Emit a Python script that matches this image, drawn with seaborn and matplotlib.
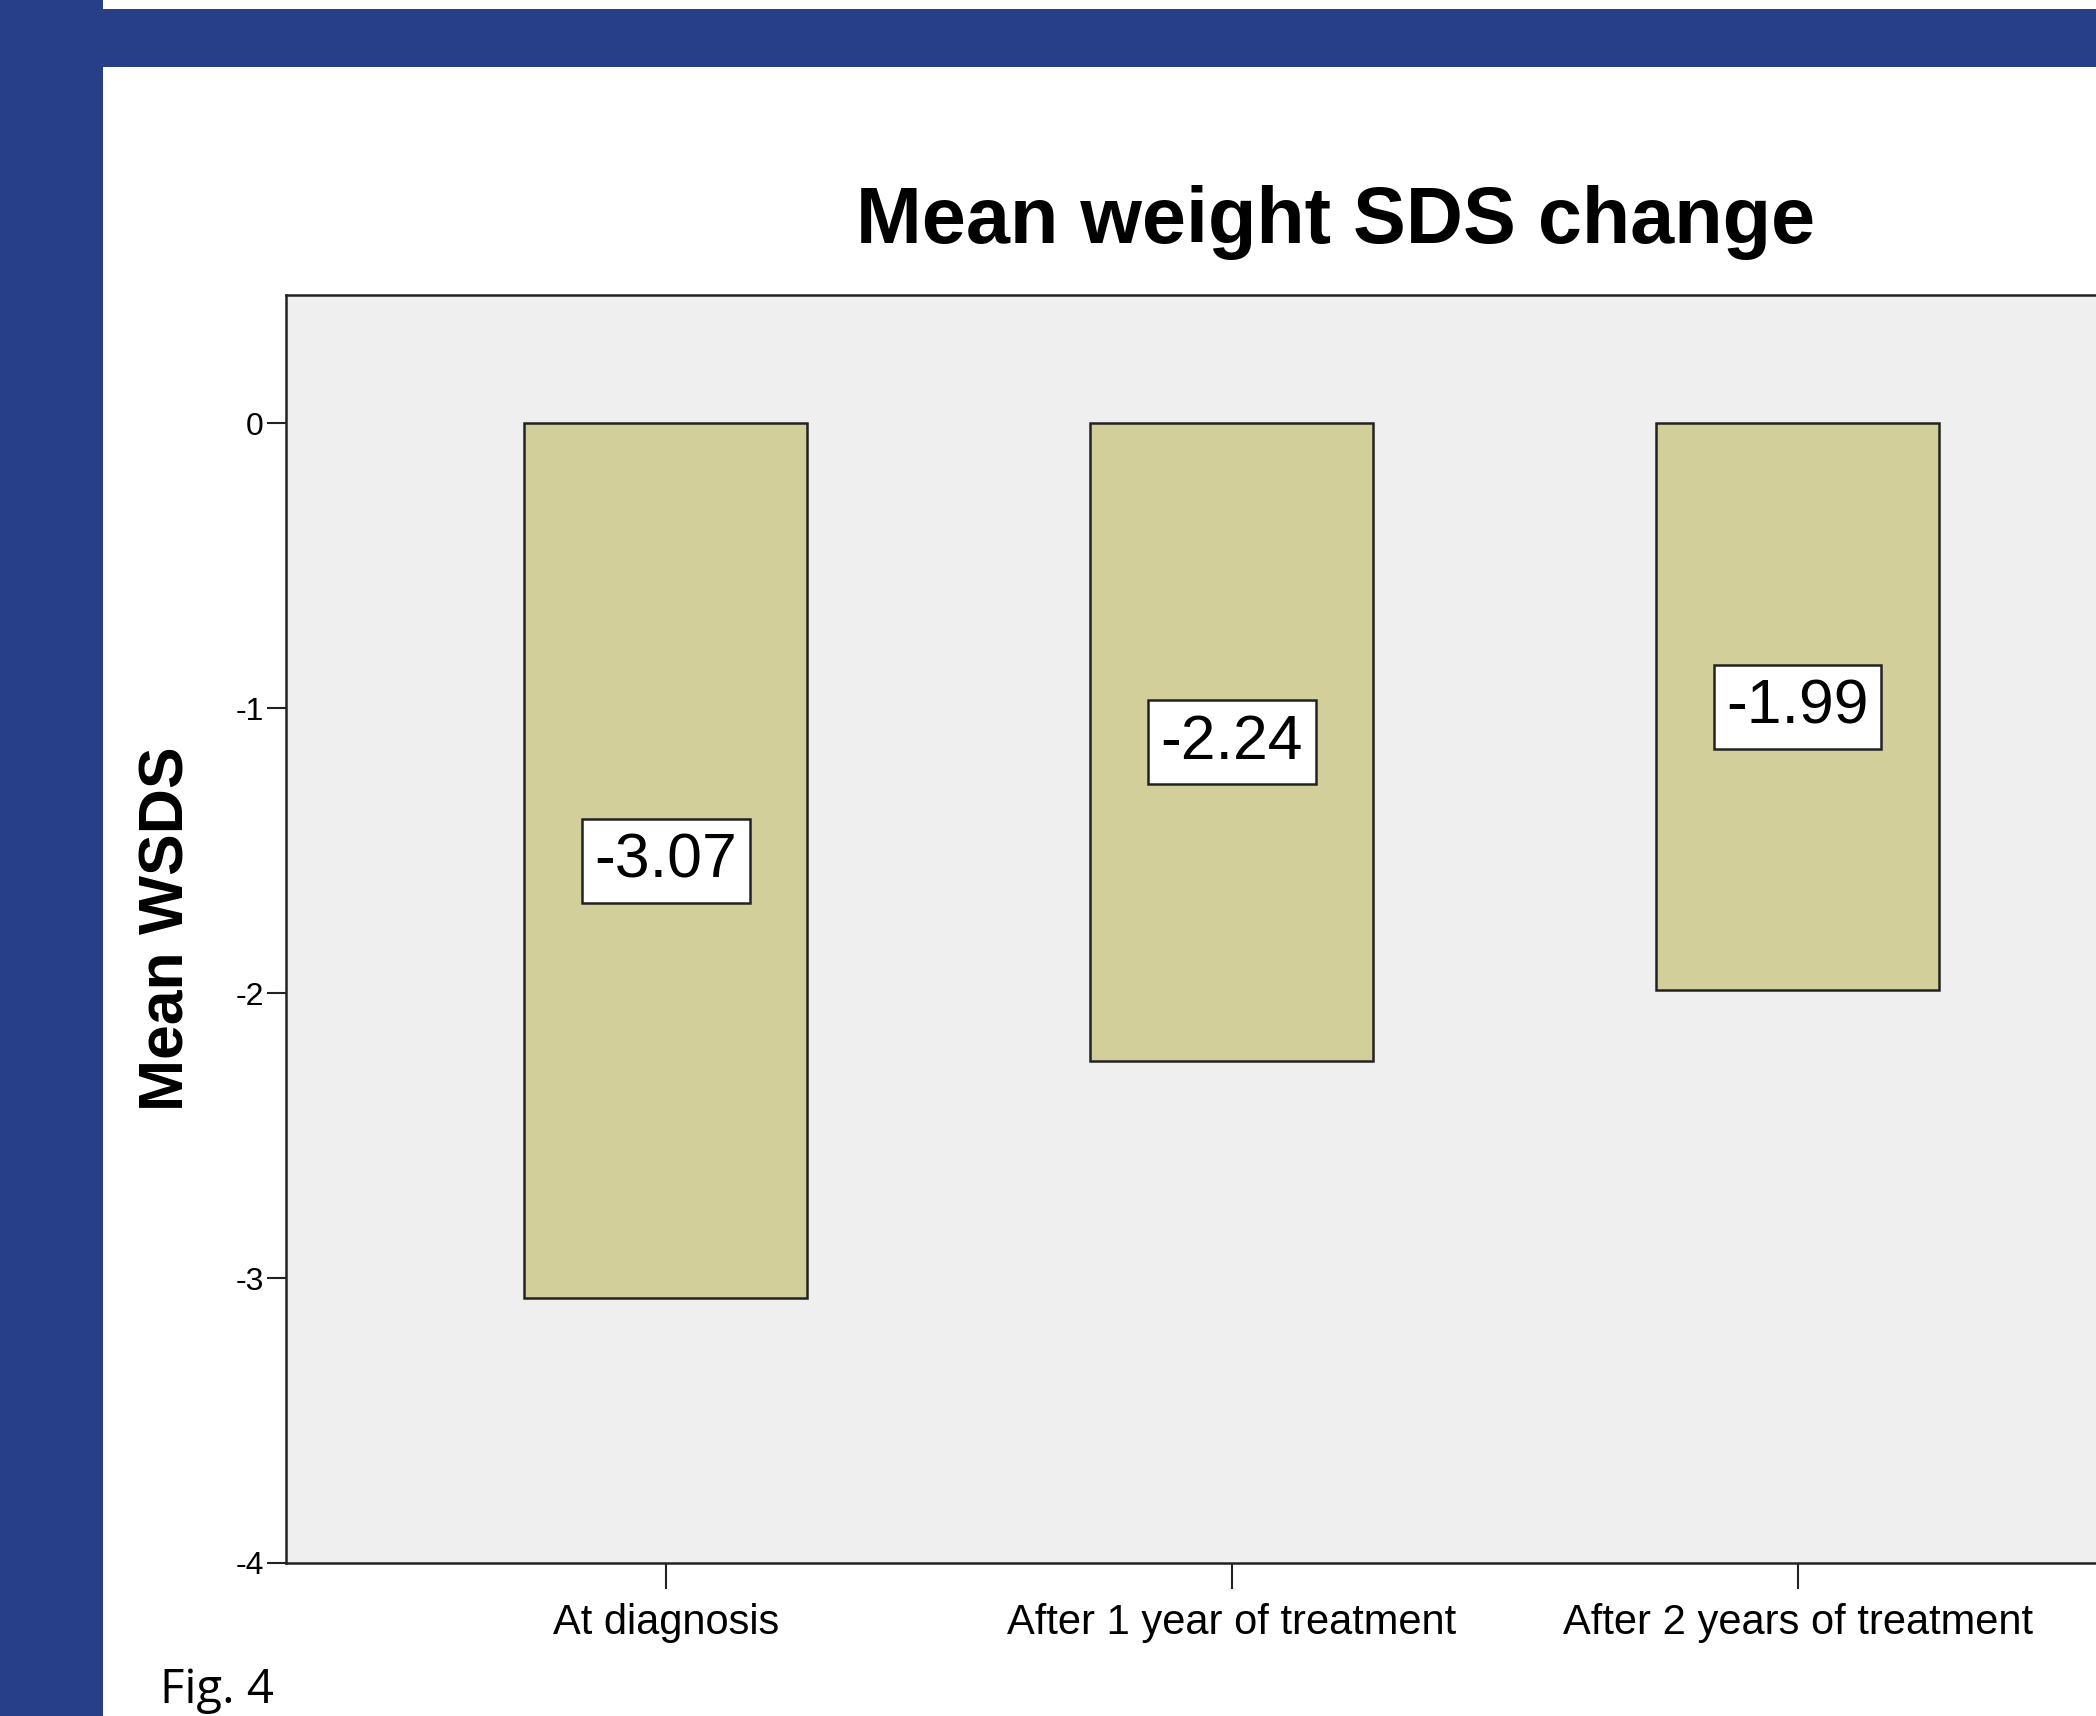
import matplotlib
matplotlib.use("Agg")
import matplotlib.pyplot as plt
import seaborn as sns
import pandas as pd
from matplotlib.patches import Rectangle

categories = ["At diagnosis", "After 1 year of treatment", "After 2 years of treatment"]
values = [-3.07, -2.24, -1.99]
value_labels = ["-3.07", "-2.24", "-1.99"]
yticks = [0, -1, -2, -3, -4]
ytick_labels = ["0", "-1", "-2", "-3", "-4"]

sns.set_theme(style="white")
plt.rcParams['font.family'] = ['Liberation Sans', 'DejaVu Sans']

W, H = 2096, 1716
fig = plt.figure(figsize=(W / 100, H / 100), dpi=100)
fig.patch.set_facecolor("white")

blue = "#263f86"
fig.patches.append(Rectangle((0, 0), 103 / W, 1, transform=fig.transFigure, fc=blue, ec="none", zorder=0))
fig.patches.append(Rectangle((100 / W, 1 - 67 / H), 1, (67 - 9) / H, transform=fig.transFigure, fc=blue, ec="none", zorder=0))

left, right, top, bottom = 286, 2096, 295, 1563
ax = fig.add_axes([left / W, 1 - bottom / H, (right - left) / W, (bottom - top) / H])
ax.set_facecolor("#efefef")

df = pd.DataFrame({"cat": categories, "val": values})
sns.barplot(data=df, x="cat", y="val", color="#d3cf9a", edgecolor="#222222",
            linewidth=1.8, width=0.5, saturation=1, ax=ax, errorbar=None)

ax.set_xlim(-0.671, 2.527)
ax.set_ylim(-4, 0.45)
ax.set_yticks(yticks)
ax.set_yticklabels(ytick_labels, fontsize=23, color="black")
ax.set_xticks(range(len(categories)))
ax.set_xticklabels(categories, fontsize=30, color="black")
ax.set_xlabel("")
ax.set_ylabel("")
ax.tick_params(axis="y", direction="out", length=14, width=1.5, color="#222222", pad=2, left=True)
ax.tick_params(axis="x", direction="out", length=19, width=1.5, color="#222222", pad=10, bottom=True)
for s in ["left", "bottom", "top"]:
    ax.spines[s].set_visible(True)
    ax.spines[s].set_color("#222222")
    ax.spines[s].set_linewidth(1.8)
ax.spines["right"].set_visible(False)

for i, (v, lab) in enumerate(zip(values, value_labels)):
    ax.text(i, v / 2, lab, ha="center", va="center", fontsize=45, color="black",
            bbox=dict(boxstyle="square,pad=0.2", fc="white", ec="#222222", lw=1.8))

fig.text(1336 / W, 1 - 222 / H, "Mean weight SDS change", ha="center", va="center",
         fontsize=57, fontweight="bold", color="black")
fig.text(167 / W, 1 - 929 / H, "Mean WSDS", ha="center", va="center", rotation=90,
         fontsize=45, fontweight="bold", color="black")
fig.text(160 / W, 2 / H, "Fig. 4", ha="left", va="bottom", fontsize=34,
         family=["Open Sans", "DejaVu Sans"], color="black")

fig.savefig("out.png", dpi=100)
